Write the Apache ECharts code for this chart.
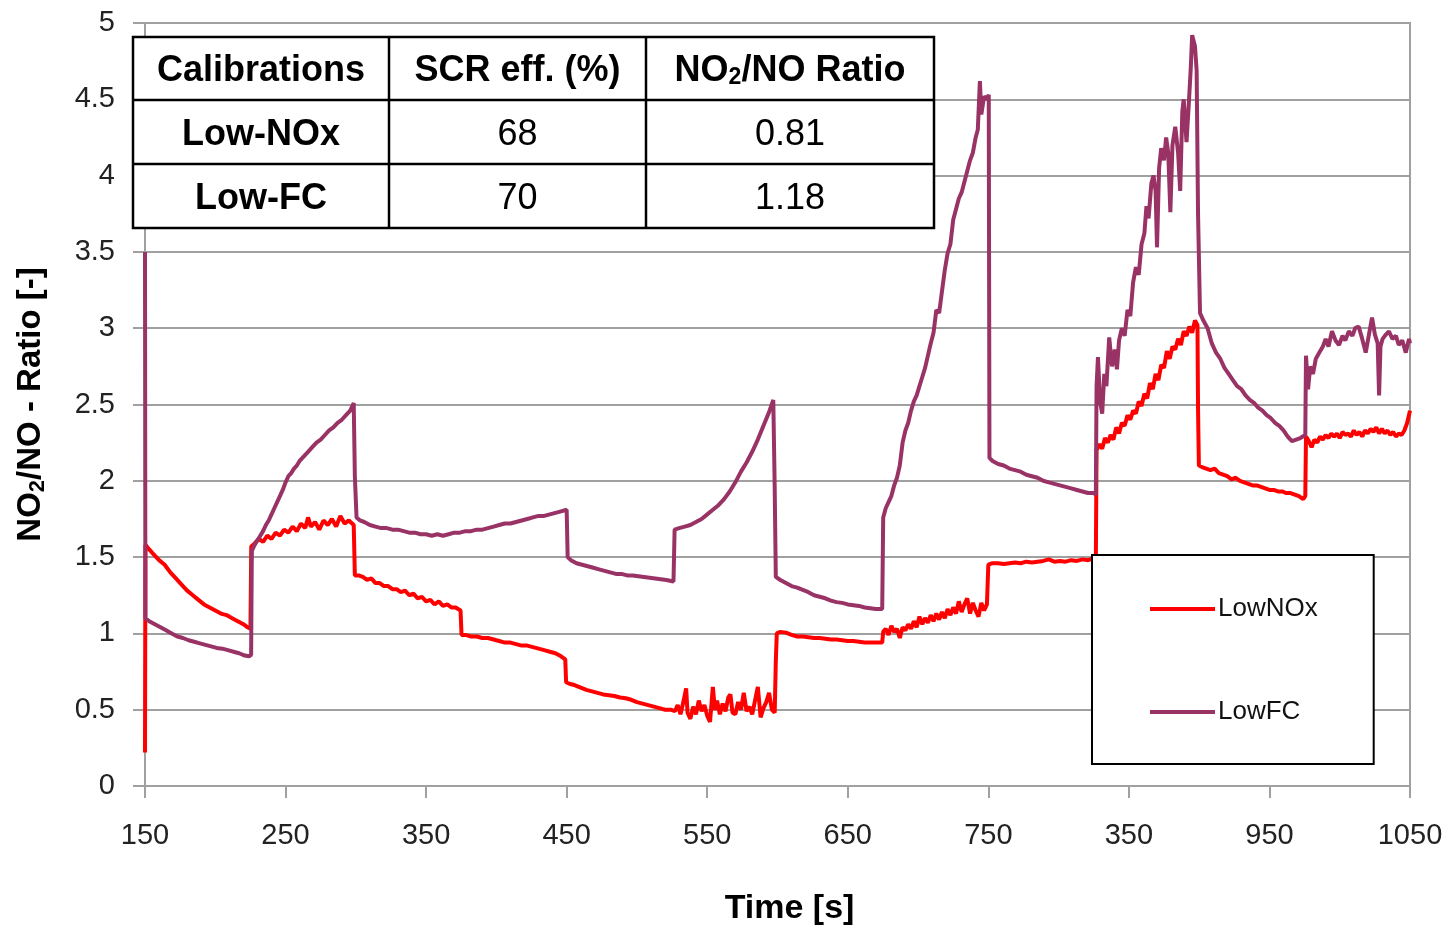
<!DOCTYPE html>
<html>
<head>
<meta charset="utf-8">
<script src="https://cdn.jsdelivr.net/npm/echarts@6/dist/echarts.min.js"></script>
<style>
  html, body { margin: 0; padding: 0; background: #fff; }
  #chart { width: 1447px; height: 927px; }
</style>
</head>
<body>
<div id="chart"></div>
<script>
// Axis ticks and their printed labels
const xTicks = [150, 250, 350, 450, 550, 650, 750, 850, 950, 1050];
const xTickLabels = ['150', '250', '350', '450', '550', '650', '750', '350', '950', '1050'];

// Summary table
const tableHeader = ['Calibrations', 'SCR eff. (%)', 'NO{sub|2}/NO Ratio'];
const tableRows = [
  ['Low-NOx', '68', '0.81'],
  ['Low-FC', '70', '1.18']
];

// Series names
const seriesNames = ['LowNOx', 'LowFC'];

// NO2/NO ratio over time [s], LowNOx calibration
const lowNOx = [
  [150, 0.22], [150.3, 1.58], [153, 1.55], [156, 1.52], [160, 1.48], [164, 1.45], [168, 1.40], [172, 1.36],
  [176, 1.32], [180, 1.28], [184, 1.25], [188, 1.22], [192, 1.19], [196, 1.17], [200, 1.15], [204, 1.13],
  [208, 1.12], [212, 1.10], [216, 1.08], [220, 1.06], [223, 1.04], [225, 1.03],
  [225.6, 1.57], [228, 1.59], [231, 1.62], [234, 1.60], [237, 1.64], [240, 1.62], [243, 1.66], [246, 1.64],
  [249, 1.68], [252, 1.66], [255, 1.70], [258, 1.67], [261, 1.72], [264, 1.69], [266, 1.76], [268, 1.70],
  [271, 1.73], [274, 1.68], [277, 1.74], [280, 1.71], [283, 1.75], [286, 1.70], [289, 1.77], [292, 1.72],
  [295, 1.74], [298.5, 1.71],
  [299.3, 1.38], [302, 1.38], [305, 1.37], [308, 1.35], [311, 1.36], [314, 1.33], [317, 1.33], [320, 1.31],
  [323, 1.31], [326, 1.29], [329, 1.29], [332, 1.27], [335, 1.28], [338, 1.25], [341, 1.26], [344, 1.23],
  [347, 1.24], [350, 1.21], [353, 1.22], [356, 1.19], [359, 1.21], [362, 1.18], [365, 1.19], [368, 1.17],
  [371, 1.17], [374.5, 1.15],
  [375.2, 0.99], [378, 0.99], [382, 0.98], [386, 0.98], [390, 0.97], [394, 0.97], [398, 0.96], [402, 0.95],
  [406, 0.94], [410, 0.94], [414, 0.93], [418, 0.92], [422, 0.92], [426, 0.91], [430, 0.90], [434, 0.89],
  [438, 0.88], [442, 0.87], [446, 0.85], [449, 0.83],
  [449.6, 0.68], [452, 0.67], [456, 0.66], [460, 0.645], [464, 0.63], [468, 0.62], [472, 0.61], [476, 0.60],
  [480, 0.595], [484, 0.59], [488, 0.58], [492, 0.575], [496, 0.565], [500, 0.55], [504, 0.54], [508, 0.53],
  [512, 0.52], [516, 0.51], [520, 0.50], [524, 0.50], [527, 0.49],
  [529, 0.53], [531, 0.47], [533, 0.55], [535, 0.64], [536, 0.48], [538, 0.44], [540, 0.52], [542, 0.47],
  [544, 0.56], [546, 0.49], [548, 0.53], [550, 0.46], [552, 0.42], [554, 0.65], [555.5, 0.50], [557, 0.56],
  [559, 0.47], [561, 0.54], [563, 0.49], [565, 0.58], [566.5, 0.60], [568, 0.48], [570, 0.47], [572, 0.55],
  [574, 0.50], [576, 0.61], [578, 0.49], [580, 0.52], [582, 0.47], [584, 0.56], [586, 0.65], [588, 0.45],
  [590, 0.51], [592, 0.55], [594, 0.61], [596, 0.50], [598, 0.48],
  [598.8, 0.82], [599.5, 1.00], [602, 1.01], [606, 1.005], [610, 0.99], [614, 0.98], [618, 0.98], [622, 0.975],
  [626, 0.97], [630, 0.97], [634, 0.965], [638, 0.96], [642, 0.96], [646, 0.955], [650, 0.95], [654, 0.95],
  [658, 0.945], [662, 0.94], [666, 0.94], [670, 0.94], [674.5, 0.94],
  [675.2, 1.01], [677, 1.03], [679, 0.99], [681, 1.05], [683, 1.01], [685, 1.03], [687, 0.97], [689, 1.04],
  [691, 1.02], [693, 1.06], [695, 1.03], [697, 1.08], [699, 1.04], [701, 1.11], [703, 1.06], [705, 1.10],
  [707, 1.07], [709, 1.12], [711, 1.08], [713, 1.13], [715, 1.09], [717, 1.14], [719, 1.10], [721, 1.16],
  [723, 1.12], [725, 1.17], [727, 1.13], [729, 1.21], [731, 1.14], [733, 1.19], [735, 1.23], [737, 1.13],
  [739, 1.20], [741, 1.15], [743, 1.11], [745, 1.20], [747, 1.15], [749, 1.19],
  [750, 1.45], [753, 1.46], [757, 1.46], [761, 1.455], [765, 1.46], [769, 1.465], [773, 1.46], [777, 1.47],
  [781, 1.465], [785, 1.47], [789, 1.475], [793, 1.485], [797, 1.47], [801, 1.475], [805, 1.47], [809, 1.48],
  [813, 1.475], [817, 1.485], [821, 1.48], [824, 1.49], [826.5, 1.50],
  [827, 2.20], [829, 2.24], [831, 2.21], [833, 2.28], [835, 2.25], [837, 2.30], [839, 2.27], [841, 2.35],
  [843, 2.31], [845, 2.38], [847, 2.36], [849, 2.43], [851, 2.40], [853, 2.46], [855, 2.44], [857, 2.52],
  [859, 2.49], [861, 2.57], [863, 2.54], [865, 2.64], [867, 2.60], [869, 2.70], [871, 2.66], [873, 2.76],
  [875, 2.74], [877, 2.85], [879, 2.80], [881, 2.88], [883, 2.86], [885, 2.93], [887, 2.89], [889, 2.98],
  [891, 2.95], [893, 3.01], [895, 2.97], [897, 3.05], [898.8, 3.02],
  [899.2, 2.47], [899.8, 2.10], [902, 2.09], [905, 2.08], [908, 2.07], [911, 2.08], [914, 2.05], [917, 2.04],
  [920, 2.03], [923, 2.01], [926, 2.02], [929, 2.00], [932, 1.99], [935, 1.98], [938, 1.97], [941, 1.97],
  [944, 1.96], [947, 1.95], [950, 1.94], [953, 1.94], [956, 1.93], [959, 1.93], [962, 1.92], [965, 1.92],
  [968, 1.91], [971, 1.90], [974, 1.88], [975.5, 1.90],
  [976, 2.29], [978, 2.26], [980, 2.22], [982, 2.27], [984, 2.25], [986, 2.29], [988, 2.27], [990, 2.30],
  [992, 2.28], [994, 2.31], [996, 2.29], [998, 2.31], [1000, 2.28], [1002, 2.32], [1004, 2.30], [1006, 2.31],
  [1008, 2.29], [1010, 2.33], [1012, 2.30], [1014, 2.32], [1016, 2.29], [1018, 2.33], [1020, 2.31], [1022, 2.34],
  [1024, 2.32], [1026, 2.35], [1028, 2.31], [1030, 2.34], [1032, 2.31], [1034, 2.33], [1036, 2.30], [1038, 2.32],
  [1040, 2.29], [1042, 2.31], [1044, 2.30], [1046, 2.33], [1048, 2.38], [1050, 2.46]
];

// NO2/NO ratio over time [s], LowFC calibration
const lowFC = [
  [150, 3.50], [150.3, 1.10], [153, 1.08], [157, 1.06], [161, 1.04], [165, 1.02], [169, 1.00], [173, 0.98],
  [177, 0.97], [181, 0.955], [185, 0.945], [189, 0.935], [193, 0.925], [197, 0.915], [201, 0.905], [205, 0.90],
  [209, 0.89], [213, 0.88], [217, 0.87], [221, 0.855], [224, 0.85], [225.5, 0.86],
  [226, 1.54], [228, 1.58], [230, 1.61], [232, 1.64], [234, 1.67], [236, 1.71], [238, 1.74], [240, 1.78],
  [242, 1.82], [244, 1.86], [246, 1.90], [248, 1.94], [250, 1.99], [252, 2.03], [254, 2.05], [256, 2.08],
  [258, 2.10], [260, 2.13], [263, 2.16], [266, 2.19], [269, 2.22], [272, 2.25], [275, 2.27], [278, 2.30],
  [281, 2.33], [284, 2.35], [287, 2.38], [290, 2.40], [293, 2.43], [296, 2.46], [298.5, 2.51],
  [299.3, 2.03], [300.5, 1.76], [303, 1.74], [306, 1.73], [310, 1.71], [314, 1.70], [318, 1.69], [322, 1.69],
  [326, 1.68], [330, 1.68], [334, 1.67], [338, 1.66], [342, 1.66], [346, 1.65], [350, 1.65], [354, 1.64],
  [358, 1.65], [362, 1.64], [366, 1.65], [370, 1.66], [374, 1.66], [378, 1.67], [382, 1.67], [386, 1.68],
  [390, 1.68], [394, 1.69], [398, 1.70], [402, 1.71], [406, 1.72], [410, 1.72], [414, 1.73], [418, 1.74],
  [422, 1.75], [426, 1.76], [430, 1.77], [434, 1.77], [438, 1.78], [442, 1.79], [446, 1.80], [450, 1.81],
  [450.7, 1.50], [453, 1.48], [457, 1.46], [461, 1.45], [465, 1.44], [469, 1.43], [473, 1.42], [477, 1.41],
  [481, 1.40], [485, 1.39], [489, 1.39], [493, 1.38], [497, 1.38], [501, 1.375], [505, 1.37], [509, 1.365],
  [513, 1.36], [517, 1.355], [521, 1.35], [526, 1.34],
  [526.8, 1.68], [530, 1.69], [534, 1.70], [538, 1.71], [542, 1.73], [546, 1.75], [550, 1.78], [554, 1.81],
  [558, 1.84], [562, 1.88], [566, 1.93], [570, 1.99], [574, 2.06], [578, 2.12], [582, 2.19], [586, 2.27],
  [590, 2.36], [594, 2.45], [597, 2.53],
  [598, 1.96], [598.8, 1.37], [602, 1.35], [606, 1.33], [610, 1.31], [614, 1.30], [618, 1.285], [622, 1.27],
  [626, 1.25], [630, 1.24], [634, 1.23], [638, 1.215], [642, 1.205], [646, 1.20], [650, 1.19], [654, 1.185],
  [658, 1.18], [662, 1.17], [666, 1.165], [670, 1.16], [674.5, 1.16],
  [675.2, 1.76], [677, 1.82], [679, 1.86], [681, 1.90], [683, 1.97], [685, 2.02], [687, 2.10], [689, 2.25],
  [691, 2.33], [693, 2.38], [695, 2.46], [697, 2.52], [699, 2.56], [701, 2.62], [703, 2.68], [705, 2.74],
  [707, 2.82], [709, 2.90], [711, 2.97], [713, 3.12], [715, 3.10], [717, 3.24], [719, 3.38], [721, 3.49],
  [723, 3.55], [725, 3.71], [727, 3.78], [729, 3.85], [731, 3.89], [733, 3.96], [735, 4.03], [737, 4.10],
  [739, 4.15], [741, 4.25], [742.5, 4.30], [744, 4.62], [745, 4.40], [747, 4.52], [749, 4.50], [750.3, 4.53],
  [750.8, 2.15], [753, 2.13], [757, 2.11], [761, 2.10], [765, 2.08], [769, 2.07], [773, 2.06], [777, 2.04],
  [781, 2.03], [785, 2.02], [789, 2.00], [793, 1.99], [797, 1.98], [801, 1.97], [805, 1.96], [809, 1.95],
  [813, 1.94], [817, 1.93], [821, 1.92], [825, 1.92], [826.5, 1.91],
  [827, 2.62], [828, 2.81], [829.5, 2.52], [831, 2.44], [832.5, 2.70], [834, 2.62], [836, 2.94], [838, 2.75],
  [840, 2.86], [841.5, 2.73], [843, 2.92], [845, 3.00], [847, 2.95], [849, 3.12], [851, 3.08], [853, 3.30],
  [855, 3.40], [857, 3.35], [859, 3.55], [861, 3.62], [862.5, 3.80], [864, 3.72], [866, 3.95], [867.5, 4.00],
  [869, 3.90], [870, 3.53], [871.5, 4.05], [873, 4.18], [875, 4.10], [876.5, 4.25], [878, 4.15], [879.5, 3.76],
  [881, 4.20], [883, 4.32], [885, 4.15], [886.5, 3.90], [888, 4.42], [889, 4.50], [891, 4.22], [892.5, 4.45],
  [894, 4.70], [895, 4.92], [897, 4.85], [898.2, 4.69],
  [899.2, 3.75], [900.6, 3.10], [903, 3.05], [906, 3.00], [909, 2.90], [912, 2.84], [915, 2.80], [918, 2.74],
  [921, 2.70], [924, 2.66], [927, 2.62], [930, 2.60], [933, 2.56], [936, 2.53], [939, 2.51], [942, 2.48],
  [945, 2.46], [948, 2.43], [951, 2.41], [954, 2.38], [957, 2.36], [960, 2.33], [963, 2.29], [966, 2.26],
  [969, 2.27], [972, 2.28], [975.5, 2.30],
  [976, 2.82], [977.5, 2.60], [979, 2.75], [981, 2.70], [983, 2.80], [985.5, 2.84], [988, 2.88], [990, 2.93],
  [992, 2.88], [994.5, 2.98], [997, 2.92], [999.5, 2.89], [1002, 2.95], [1004, 2.92], [1006.5, 2.98], [1009, 2.95],
  [1011, 3.00], [1013.5, 3.01], [1016, 2.93], [1018.5, 2.84], [1021, 2.97], [1023, 3.07], [1025, 2.96], [1027, 2.90],
  [1028, 2.56], [1029, 2.88], [1030.5, 2.93], [1033, 2.96], [1035, 2.98], [1037.5, 2.93], [1040, 2.95], [1042, 2.89],
  [1044.5, 2.92], [1047, 2.84], [1049.3, 2.93], [1050, 2.90]
];

const FONT = '"Liberation Sans", Arial, sans-serif';
const GRID_GRAY = '#a0a0a0';

// Summary table drawn as graphic elements in the upper-left corner
function buildTable() {
  const x0 = 133, y0 = 37;
  const colW = [256, 257, 288];
  const rowH = [63, 64, 64];
  const totalW = colW.reduce((a, b) => a + b, 0);
  const totalH = rowH.reduce((a, b) => a + b, 0);
  const els = [];
  els.push({
    type: 'rect', z: 100,
    shape: { x: x0, y: y0, width: totalW, height: totalH },
    style: { fill: '#fff', stroke: '#000', lineWidth: 2.5 }
  });
  let yy = y0;
  for (let r = 0; r < rowH.length - 1; r++) {
    yy += rowH[r];
    els.push({ type: 'line', z: 101, shape: { x1: x0, y1: yy, x2: x0 + totalW, y2: yy },
      style: { stroke: '#000', lineWidth: 2.5 } });
  }
  let xx = x0;
  for (let c = 0; c < colW.length - 1; c++) {
    xx += colW[c];
    els.push({ type: 'line', z: 101, shape: { x1: xx, y1: y0, x2: xx, y2: y0 + totalH },
      style: { stroke: '#000', lineWidth: 2.5 } });
  }
  const rows = [tableHeader].concat(tableRows);
  let cy = y0;
  rows.forEach((row, r) => {
    let cx = x0;
    row.forEach((cell, c) => {
      const bold = r === 0 || c === 0;
      els.push({
        type: 'text', z: 102,
        x: cx + colW[c] / 2, y: cy + rowH[r] / 2 + 3,
        style: {
          text: cell,
          font: (bold ? 'bold ' : '') + '36px ' + FONT,
          fill: '#000',
          align: 'center', verticalAlign: 'middle',
          rich: {
            sub: { fontSize: 23, fontWeight: 'bold', fontFamily: FONT, fill: '#000',
                   verticalAlign: 'bottom', lineHeight: 16 }
          }
        }
      });
      cx += colW[c];
    });
    cy += rowH[r];
  });
  return els;
}

const chart = echarts.init(document.getElementById('chart'), null, { renderer: 'canvas' });

chart.setOption({
  animation: false,
  backgroundColor: '#fff',
  grid: {
    left: 145, right: 37, top: 23, bottom: 141,
    outerBoundsMode: 'none',
    containLabel: false,
    show: true, borderColor: GRID_GRAY, borderWidth: 2, backgroundColor: 'transparent'
  },
  legend: {
    data: seriesNames,
    orient: 'vertical',
    left: 1092, top: 555,
    backgroundColor: '#fff',
    borderColor: '#000', borderWidth: 2,
    padding: [40, 56, 38, 58],
    itemGap: 75,
    itemWidth: 65, itemHeight: 4,
    icon: 'rect',
    itemStyle: { borderWidth: 0 },
    textStyle: { fontFamily: FONT, fontSize: 26, color: '#111', padding: [0, 0, 0, -2], lineHeight: 28 },
    z: 50
  },
  xAxis: {
    type: 'value', min: 150, max: 1050,
    name: 'Time [s]', nameLocation: 'middle', nameGap: 106,
    nameTextStyle: { fontFamily: FONT, fontWeight: 'bold', fontSize: 34, color: '#000', padding: [0, 0, 0, 24] },
    axisLine: { show: true, lineStyle: { color: GRID_GRAY, width: 2 } },
    axisTick: { show: true, customValues: xTicks, length: 12, lineStyle: { color: GRID_GRAY, width: 2 } },
    axisLabel: {
      customValues: xTicks,
      formatter: v => xTickLabels[xTicks.indexOf(v)],
      margin: 35, fontFamily: FONT, fontSize: 29, color: '#222'
    },
    splitLine: { show: false }
  },
  yAxis: {
    type: 'value', min: 0, max: 5, interval: 0.5,
    name: 'NO{sub|2}/NO - Ratio [-]', nameLocation: 'middle', nameGap: 96,
    nameTextStyle: {
      fontFamily: FONT, fontWeight: 'bold', fontSize: 33, color: '#000', lineHeight: 36,
      rich: { sub: { fontFamily: FONT, fontWeight: 'bold', fontSize: 22, color: '#000', lineHeight: 22, verticalAlign: 'bottom' } }
    },
    axisLine: { show: true, lineStyle: { color: GRID_GRAY, width: 2 } },
    axisTick: { show: true, length: 12, lineStyle: { color: GRID_GRAY, width: 2 } },
    axisLabel: { margin: 30, fontFamily: FONT, fontSize: 29, color: '#222' },
    splitLine: { show: true, lineStyle: { color: GRID_GRAY, width: 2 } }
  },
  series: [
    {
      name: seriesNames[0], type: 'line', data: lowNOx, symbol: 'none',
      lineStyle: { color: '#ff0000', width: 4 }, itemStyle: { color: '#ff0000' }, z: 3
    },
    {
      name: seriesNames[1], type: 'line', data: lowFC, symbol: 'none',
      lineStyle: { color: '#993366', width: 4 }, itemStyle: { color: '#993366' }, z: 4
    }
  ],
  graphic: buildTable()
});
</script>
</body>
</html>
